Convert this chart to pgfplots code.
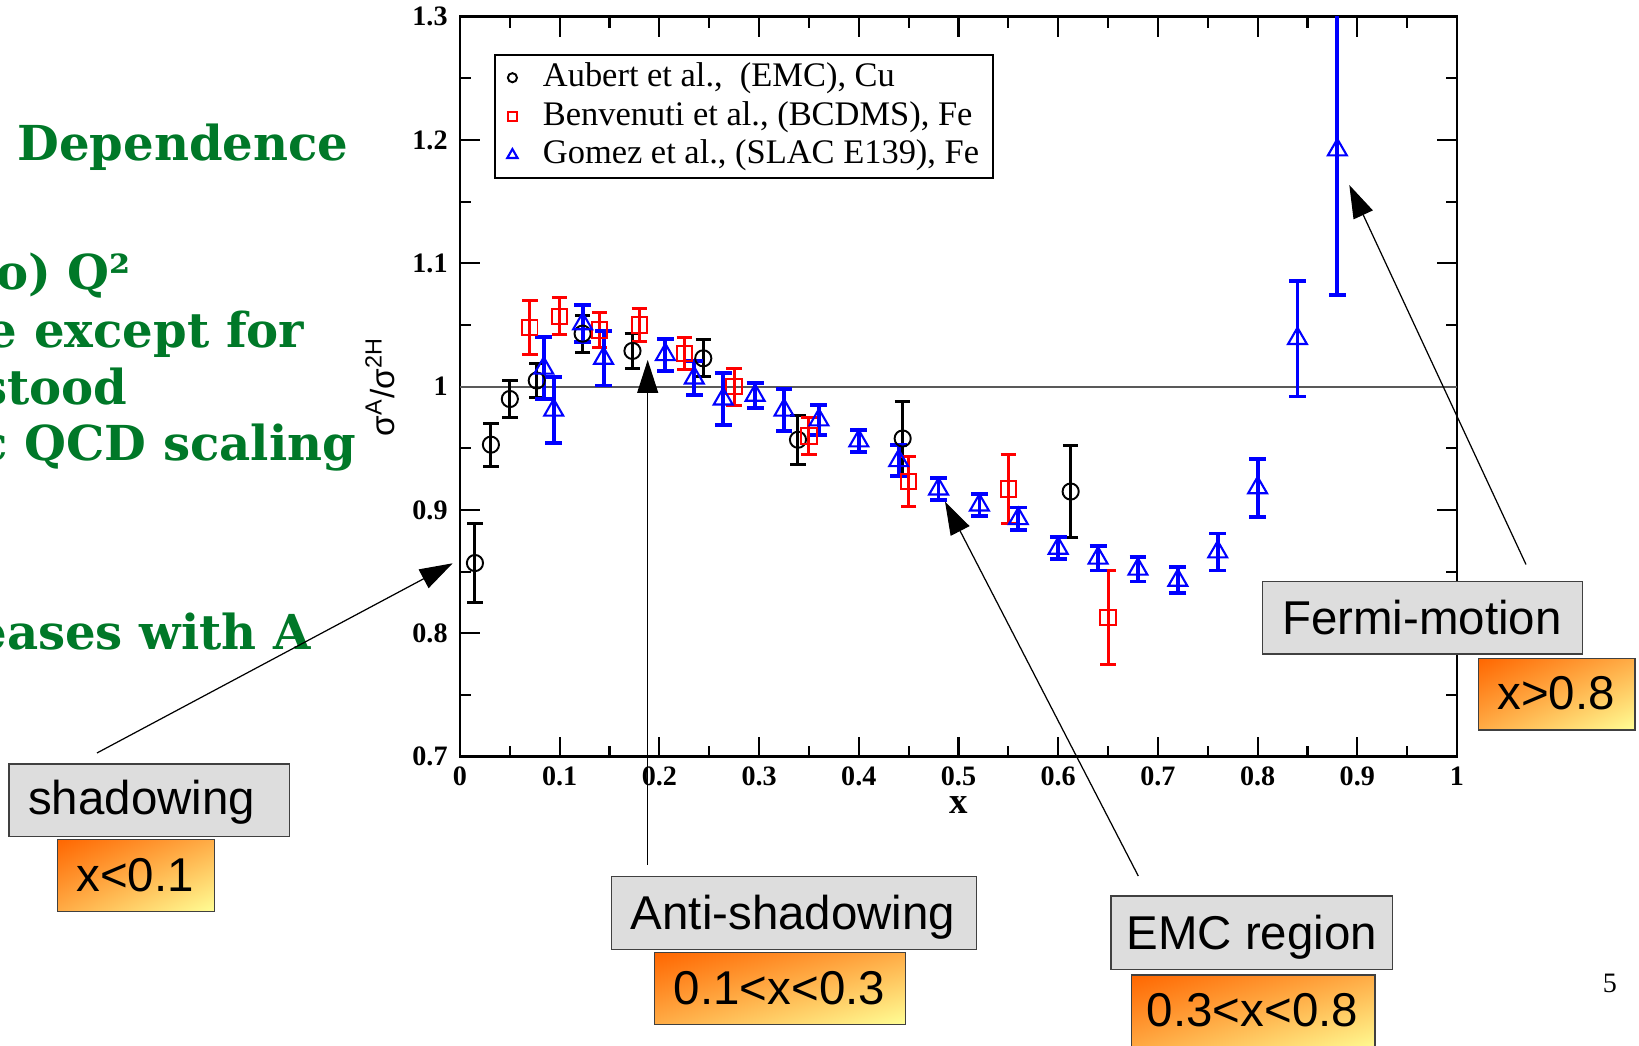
\documentclass[border=0pt]{standalone}
\usepackage{fontspec}
\setmainfont{Liberation Serif}
\newfontfamily\greenfont{DejaVu Serif}
\newfontfamily\boxfont{Liberation Sans}
\usepackage{pgfplots}
\pgfplotsset{compat=1.18}
\usetikzlibrary{arrows.meta,shadings}
\definecolor{slidegreen}{RGB}{0,120,40}
\definecolor{boxgray}{RGB}{221,221,221}
\definecolor{orangeA}{RGB}{255,102,0}
\definecolor{orangeB}{RGB}{255,172,70}
\definecolor{paleyellow}{RGB}{255,255,150}
\pgfplotsset{smallmark/.style={legend image code/.code={\path[draw=none,fill=none] (-0.07cm,0cm) (0.27cm,0cm);
  \draw[##1,mark size=#1] plot coordinates {(0cm,0cm)};}}}

\begin{document}
\begin{tikzpicture}
\path[use as bounding box] (-4.60,-2.893) rectangle (11.79,7.567);
\begin{axis}[width=9.97cm,height=7.40cm,scale only axis,
  xmin=0,xmax=1,ymin=0.7,ymax=1.3,
  xtick={0,0.1,0.2,0.3,0.4,0.5,0.6,0.7,0.8,0.9,1},
  ytick={0.7,0.8,0.9,1,1.1,1.2,1.3},
  minor x tick num=1,minor y tick num=1,
  tick align=inside,major tick length=2mm,minor tick length=1.1mm,
  every tick/.style={black,line width=0.6pt},
  axis line style={line width=0.7pt},
  /pgf/number format/assume math mode=true,
  tick label style={font=\bfseries\fontsize{8}{9}\selectfont},
  xticklabel style={inner sep=0.5pt,yshift=-2.2pt},
  xlabel={x},
  xlabel style={font=\bfseries\fontsize{10.5}{12}\selectfont,inner sep=0pt,at={(axis description cs:0.5,-0.066)},anchor=center},
  ylabel={σ\textsuperscript{A}/σ\textsuperscript{2H}},
  ylabel style={font=\boxfont\fontsize{9.5}{11}\selectfont,at={(axis description cs:-0.08,0.5)},anchor=center},
  legend cell align=left,
  legend style={font=\fontsize{9.8}{11}\selectfont,draw=black,line width=0.5pt,
    at={(0.0341,0.9496)},anchor=north west,inner xsep=3pt,inner ysep=1pt,
    nodes={inner sep=1pt,text height=7pt,text depth=2pt}},
  error bars/y dir=both,error bars/y explicit]

\addplot[forget plot,black!65,line width=0.6pt] coordinates {(0,1) (1,1)};

\addplot[only marks,black,mark=o,mark size=2.3pt,mark options={fill=white,line width=0.55pt},
  error bars/error bar style={line width=0.85pt},
  error bars/error mark options={rotate=90,mark size=2.2pt,line width=0.85pt},
  smallmark=1.3pt]
  coordinates {
  (0.015,0.857) +- (0,0.032)
  (0.031,0.953) +- (0,0.0175)
  (0.050,0.990) +- (0,0.015)
  (0.077,1.005) +- (0,0.014)
  (0.123,1.043) +- (0,0.015)
  (0.173,1.029) +- (0,0.014)
  (0.244,1.023) +- (0,0.015)
  (0.339,0.957) +- (0,0.020)
  (0.444,0.958) +- (0,0.030)
  (0.6125,0.915) +- (0,0.037)
  };
\addlegendentry{Aubert et al.,\ \ (EMC), Cu}

\addplot[only marks,red,mark=square,mark size=2.2pt,mark options={fill=white,line width=0.55pt},
  error bars/error bar style={line width=0.85pt},
  error bars/error mark options={rotate=90,mark size=2.2pt,line width=0.85pt},
  smallmark=1.3pt]
  coordinates {
  (0.070,1.048) +- (0,0.022)
  (0.100,1.057) +- (0,0.015)
  (0.140,1.046) +- (0,0.014)
  (0.180,1.050) +- (0,0.013)
  (0.225,1.027) +- (0,0.013)
  (0.275,1.000) +- (0,0.015)
  (0.350,0.960) +- (0,0.015)
  (0.450,0.923) +- (0,0.020)
  (0.550,0.917) +- (0,0.028)
  (0.650,0.813) +- (0,0.038)
  };
\addlegendentry{Benvenuti et al., (BCDMS), Fe}

\addplot[only marks,blue,mark=triangle,mark size=3.1pt,mark options={fill=white,line width=0.6pt},
  error bars/error bar style={line width=1.1pt},
  error bars/error mark options={rotate=90,mark size=2.4pt,line width=1.1pt},
  smallmark=1.7pt]
  coordinates {
  (0.084,1.015) +- (0,0.025)
  (0.094,0.981) +- (0,0.027)
  (0.123,1.051) +- (0,0.015)
  (0.144,1.023) +- (0,0.022)
  (0.206,1.026) +- (0,0.013)
  (0.235,1.007) +- (0,0.014)
  (0.264,0.990) +- (0,0.021)
  (0.296,0.993) +- (0,0.010)
  (0.325,0.981) +- (0,0.017)
  (0.360,0.973) +- (0,0.012)
  (0.400,0.956) +- (0,0.009)
  (0.440,0.940) +- (0,0.0125)
  (0.480,0.917) +- (0,0.009)
  (0.521,0.904) +- (0,0.009)
  (0.560,0.893) +- (0,0.009)
  (0.600,0.869) +- (0,0.009)
  (0.640,0.861) +- (0,0.010)
  (0.680,0.852) +- (0,0.010)
  (0.720,0.843) +- (0,0.0105)
  (0.760,0.866) +- (0,0.015)
  (0.800,0.918) +- (0,0.0235)
  (0.840,1.039) +- (0,0.047)
  (0.880,1.192) +- (0,0.118)
  };
\addlegendentry{Gomez et al., (SLAC E139), Fe}
\end{axis}

% slide text on the left
\begin{scope}[every node/.style={font=\greenfont\bfseries\fontsize{13.7}{16}\selectfont,text=slidegreen,inner sep=0pt}]
\node[anchor=base west] at (-4.433,5.963) {Dependence};
\node[anchor=base east] at (-3.283,4.667) {o) Q²};
\node[anchor=base east] at (-1.55,4.093) {e except for};
\node[anchor=base east] at (-3.317,3.519) {stood};
\node[anchor=base east] at (-1.033,2.963) {c QCD scaling};
\node[anchor=base east] at (-1.483,1.074) {eases with A};
\end{scope}

% arrows
\begin{scope}[line width=0.35pt,-{Triangle[length=3.3mm,width=2.1mm]}]
\draw (-3.63,0.037) -- (-0.073,1.934);
\draw (1.877,-1.083) -- (1.877,3.967);
\draw (6.783,-1.193) -- (4.85,2.55);
\draw (10.66,1.922) -- (8.893,5.717);
\end{scope}

% label boxes
\begin{scope}[line width=0.4pt]
\filldraw[fill=boxgray,draw=black!75] (-4.51,-0.073) rectangle (-1.707,-0.80);
\filldraw[fill=boxgray,draw=black!75] (1.517,-1.20) rectangle (5.167,-1.926);
\filldraw[fill=boxgray,draw=black!75] (6.51,-1.393) rectangle (9.327,-2.126);
\filldraw[fill=boxgray,draw=black!75] (8.023,1.75) rectangle (11.227,1.027);
\shadedraw[upper left=orangeA,upper right=orangeB,lower left=orangeB,lower right=paleyellow,draw=black!75] (-4.023,-0.826) rectangle (-2.457,-1.55);
\shadedraw[upper left=orangeA,upper right=orangeB,lower left=orangeB,lower right=paleyellow,draw=black!75] (1.943,-1.96) rectangle (4.457,-2.68);
\shadedraw[upper left=orangeA,upper right=orangeB,lower left=orangeB,lower right=paleyellow,draw=black!75] (6.717,-2.183) rectangle (9.15,-2.95);
\shadedraw[upper left=orangeA,upper right=orangeB,lower left=orangeB,lower right=paleyellow,draw=black!75] (10.183,0.984) rectangle (11.75,0.267);
\end{scope}

\begin{scope}[every node/.style={font=\boxfont\fontsize{13.5}{16}\selectfont,anchor=base,inner sep=0pt}]
\node at (-3.183,-0.583) {shadowing};
\node at (-3.25,-1.35) {x<0.1};
\node at (3.33,-1.733) {Anti-shadowing};
\node at (3.195,-2.483) {0.1<x<0.3};
\node at (7.917,-1.933) {EMC region};
\node at (7.925,-2.70) {0.3<x<0.8};
\node at (9.62,1.217) {Fermi-motion};
\node at (10.96,0.467) {x>0.8};
\end{scope}

\node[font=\fontsize{8}{9}\selectfont] at (11.5,-2.263) {5};
\end{tikzpicture}
\end{document}
